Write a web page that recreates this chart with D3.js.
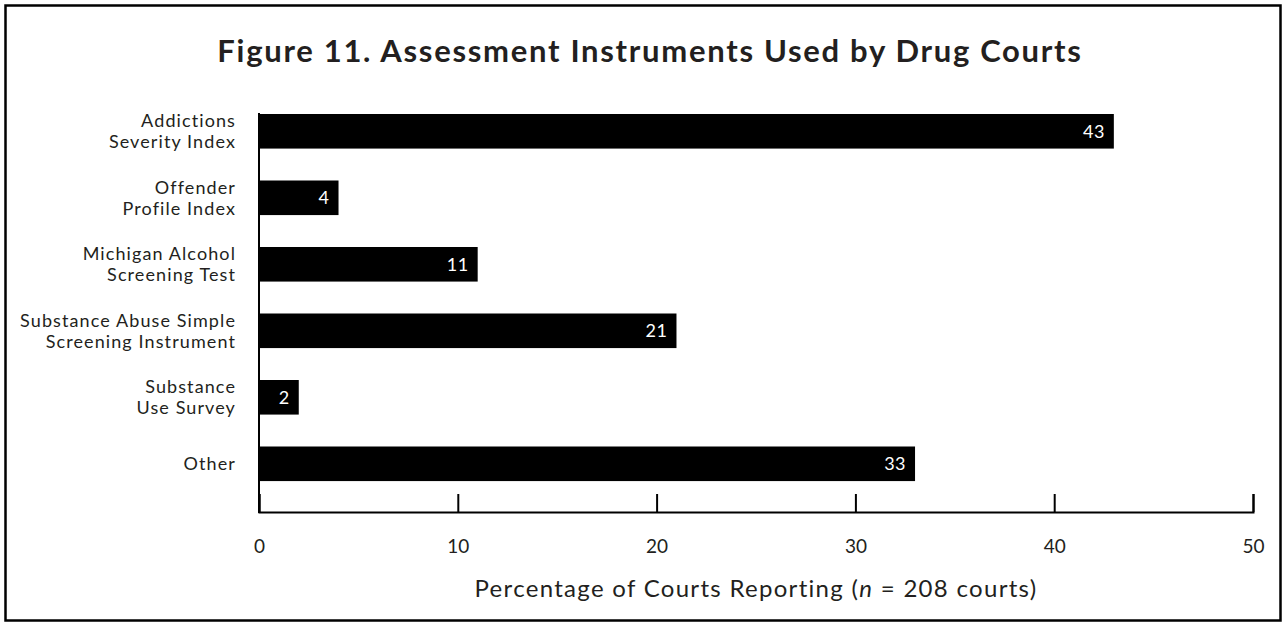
<!DOCTYPE html>
<html><head><meta charset="utf-8">
<script src="https://cdn.jsdelivr.net/npm/d3@7"></script>
<style>body{margin:0;background:#fff}svg{display:block}text{font-family:Lato,"Open Sans",sans-serif}</style>
</head><body>
<svg id="c" width="1283" height="624"></svg>
<script>
const categories = [["Addictions","Severity Index"],["Offender","Profile Index"],["Michigan Alcohol","Screening Test"],["Substance Abuse Simple","Screening Instrument"],["Substance","Use Survey"],["Other"]];
const values = [43, 4, 11, 21, 2, 33];
const ticks = [0, 10, 20, 30, 40, 50];

const svg = d3.select("#c");
svg.append("rect").attr("x",5.5).attr("y",5.5).attr("width",1275).attr("height",615)
  .attr("fill","#fff").attr("stroke","#000").attr("stroke-width",2.5);

const x = d3.scaleLinear().domain([0,50]).range([259,1253]);
const y = d3.scaleBand().domain(d3.range(categories.length)).range([114,513]).padding(0);
const bh = y.bandwidth()*0.52;

svg.append("text").attr("x",650).attr("y",62).attr("text-anchor","middle")
  .attr("font-size",31).attr("font-weight","bold").attr("fill","#231f20")
  .attr("letter-spacing","1.7px")
  .text("Figure 11.  Assessment Instruments Used by Drug Courts");

svg.selectAll("rect.bar").data(values).join("rect").attr("class","bar")
  .attr("x",x(0)).attr("y",(d,i)=>y(i)).attr("width",d=>x(d)-x(0)).attr("height",bh).attr("fill","#000");

svg.selectAll("text.val").data(values).join("text").attr("class","val")
  .attr("x",d=>x(d)-9).attr("y",(d,i)=>y(i)+bh/2).attr("dy","0.36em")
  .attr("text-anchor","end").attr("fill","#fff").attr("font-size",18).attr("letter-spacing","0.5px").text(d=>d);

const lab = svg.selectAll("g.cat").data(categories).join("g").attr("class","cat");
lab.each(function(d,i){
  const gg = d3.select(this);
  const cy = y(i)+bh/2;
  const lh = 21;
  const y0 = cy - (d.length-1)*lh/2;
  d.forEach((s,j)=>gg.append("text").attr("x",236).attr("y",y0+j*lh).attr("dy","0.36em")
    .attr("text-anchor","end").attr("font-size",18).attr("fill","#231f20").attr("letter-spacing","1.1px").text(s));
});

// axes
const ax = d3.axisBottom(x).tickValues(ticks).tickSize(-18).tickPadding(0).tickFormat(d3.format("d"));
const g = svg.append("g").attr("transform","translate(0,512)").call(ax);
g.select(".domain").attr("stroke","#000").attr("stroke-width",2);
g.selectAll(".tick line").attr("stroke","#000").attr("stroke-width",2);
g.selectAll(".tick text").attr("y",41).attr("dy",0).attr("font-size",19).attr("fill","#231f20")
  .attr("font-family","Lato,'Open Sans',sans-serif");
svg.append("line").attr("x1",x(0)).attr("x2",x(0)).attr("y1",113).attr("y2",513).attr("stroke","#000").attr("stroke-width",2);

const at = svg.append("text").attr("x",(x(0)+x(50))/2).attr("y",597)
  .attr("text-anchor","middle").attr("font-size",24).attr("fill","#231f20").attr("letter-spacing","1.3px");
at.append("tspan").text("Percentage of Courts Reporting (");
at.append("tspan").attr("font-style","italic").text("n");
at.append("tspan").text(" = 208 courts)");
</script>
</body></html>
